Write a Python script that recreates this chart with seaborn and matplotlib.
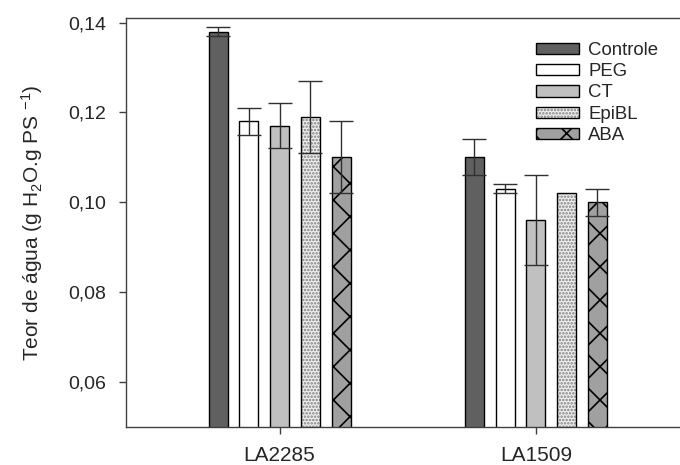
import numpy as np
import pandas as pd
import seaborn as sns
import matplotlib
matplotlib.use("Agg")
import matplotlib.pyplot as plt
from matplotlib.patches import Patch

# data
genotipos = ["LA2285", "LA1509"]
tratamentos = ["Controle", "PEG", "CT", "EpiBL", "ABA"]
teor_la2285 = [0.138, 0.118, 0.117, 0.119, 0.110]
teor_la1509 = [0.110, 0.103, 0.096, 0.102, 0.100]
erro_la2285 = [0.001, 0.003, 0.005, 0.008, 0.008]
erro_la1509 = [0.004, 0.001, 0.010, 0.0, 0.003]

cores = ["#606060", "#ffffff", "#c0c0c0", "#eeeeee", "#a0a0a0"]
hachuras = [None, None, None, ".....", "x"]
cor_hachura = [None, None, None, "#808080", "black"]

sns.set_style("ticks")
plt.rcParams["font.family"] = ["Liberation Sans", "DejaVu Sans"]
plt.rcParams["mathtext.fontset"] = "custom"
plt.rcParams["mathtext.rm"] = "Liberation Sans"
plt.rcParams["mathtext.it"] = "Liberation Sans:italic"
plt.rcParams["hatch.linewidth"] = 1.2

df = pd.DataFrame({
    "genotipo": np.repeat(genotipos, len(tratamentos)),
    "tratamento": tratamentos * len(genotipos),
    "teor": teor_la2285 + teor_la1509,
    "erro": erro_la2285 + erro_la1509,
})

fig = plt.figure(figsize=(6.8, 4.65), dpi=100)
ax = fig.add_axes([0.185, 0.082, 0.815, 0.879])

sns.barplot(data=df, x="genotipo", y="teor", hue="tratamento",
            order=genotipos, hue_order=tratamentos, palette=cores,
            width=0.6, gap=0.38, errorbar=None, edgecolor="black",
            linewidth=1.0, saturation=1, ax=ax)


def pintar_hachura(p, i):
    if hachuras[i]:
        p.set_hatch(hachuras[i])
        p._hatch_color = matplotlib.colors.to_rgba(cor_hachura[i])


# hatches and error bars per treatment
barras = list(ax.containers)
for i, cont in enumerate(barras):
    trat = tratamentos[i]
    sub = df[df["tratamento"] == trat].set_index("genotipo").loc[genotipos]
    for bar in cont:
        pintar_hachura(bar, i)
    xs = [b.get_x() + b.get_width() / 2 for b in cont]
    for x, v, e in zip(xs, sub["teor"], sub["erro"]):
        if e > 0:
            ax.errorbar(x, v, yerr=e, fmt="none", ecolor="#303030",
                        elinewidth=1.0, capsize=8.5, capthick=1.0, zorder=5)

ax.set_ylim(0.05, 0.141)
ax.set_xlim(-0.6, 1.5625)
yt = [0.06, 0.08, 0.10, 0.12, 0.14]
ax.set_yticks(yt)
ax.set_yticklabels([f"{t:.2f}".replace(".", ",") for t in yt])
ax.set_xlabel("")
ax.set_ylabel("Teor de água (g H$_2$O.g PS $^{-1}$)", fontsize=15, labelpad=17)
ax.tick_params(axis="both", direction="out", length=5, width=1, color="#404040")
ax.tick_params(axis="y", labelsize=14, pad=9)
ax.tick_params(axis="x", labelsize=15, pad=9)

for s in ["left", "bottom", "top"]:
    ax.spines[s].set_visible(True)
    ax.spines[s].set_color("#404040")
    ax.spines[s].set_linewidth(1.0)
ax.spines["right"].set_visible(False)

handles = []
for i, c in enumerate(cores):
    p = Patch(facecolor=c, edgecolor="black", linewidth=1.0)
    pintar_hachura(p, i)
    handles.append(p)
ax.legend(handles, tratamentos, loc="upper left", bbox_to_anchor=(0.727, 0.96),
          frameon=False, fontsize=13.4, handlelength=2.3, handleheight=0.55,
          labelspacing=0.23, handletextpad=0.5, borderaxespad=0)

fig.savefig("out.png", dpi=100)
